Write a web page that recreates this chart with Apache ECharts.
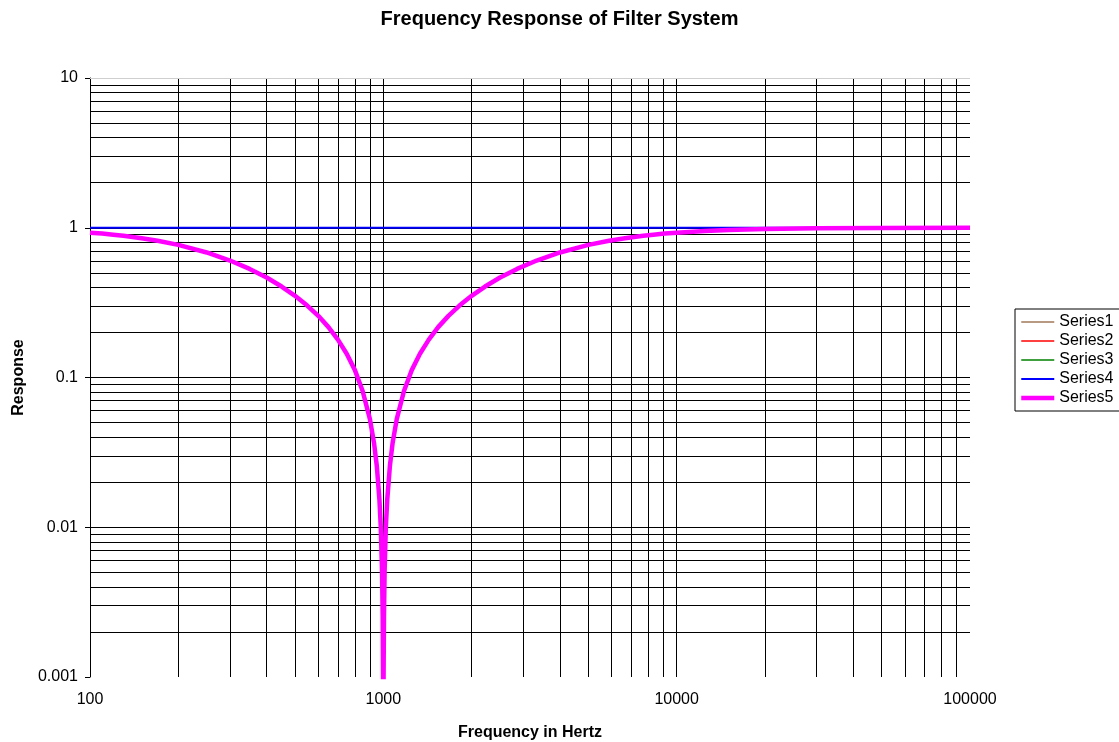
<!DOCTYPE html>
<html>
<head>
<meta charset="utf-8">
<script src="https://cdn.jsdelivr.net/npm/echarts@6/dist/echarts.min.js"></script>
<style>html,body{margin:0;padding:0;background:#fff;}#c{width:1119px;height:742px;}</style>
</head>
<body>
<div id="c"></div>
<script>
// ---- data ----
const seriesNames = ['Series1', 'Series2', 'Series3', 'Series4', 'Series5'];
const seriesColors = ['#A0785A', '#FF0000', '#008000', '#0000FF', '#FF00FF'];
const xTickLabels = ['100', '1000', '10000', '100000'];
const yTickLabels = ['0.001', '0.01', '0.1', '1', '10'];
const series1 = [];
const series2 = [];
const series3 = [];
const series4Freq = [100, 100000];
const series4Resp = [1, 1];
const series5Freq = [100,110,120,130,150,170,200,250,300,350,400,450,500,550,600,650,700,750,800,850,900,930,950,970,980,990,995,998,1000,
  1002,1005,1010,1020,1031,1053,1075,1111,1176,1250,1333,1429,1538,1667,1818,2000,2222,2500,2857,3333,4000,5000,5882,6667,7692,8333,9091,10000,12500,15000,20000,30000,50000,100000];
const series5Resp = [0.927,0.914,0.899,0.884,0.852,0.819,0.768,0.684,0.604,0.531,0.465,0.405,0.351,0.302,0.258,0.217,0.179,0.144,0.112,0.0813,0.0527,0.0363,0.0257,0.0152,0.0101,0.00503,0.0025,0.001,0.00001,
  0.001,0.0025,0.00503,0.0101,0.0152,0.0257,0.0363,0.0527,0.0813,0.112,0.144,0.179,0.217,0.258,0.302,0.351,0.405,0.465,0.531,0.604,0.684,0.768,0.819,0.852,0.884,0.899,0.914,0.927,0.952,0.966,0.981,0.991,0.997,0.999];
const minorMultipliers = [2, 3, 4, 5, 6, 7, 8, 9];
const xDecades = [100, 1000, 10000];
const yDecades = [0.001, 0.01, 0.1, 1];
const xMin = 100, xMax = 100000, yMin = 0.001, yMax = 10;

// ---- build ----
const zip = (a, b) => a.map((v, i) => [v, b[i]]);
const xMinor = [];
xDecades.forEach(d => minorMultipliers.forEach(m => xMinor.push(d * m)));
const yMinor = [];
yDecades.forEach(d => minorMultipliers.forEach(m => yMinor.push(+(d * m).toPrecision(3))));

const FONT = 'Liberation Sans, Arial, sans-serif';
const chart = echarts.init(document.getElementById('c'), null, { renderer: 'canvas' });

const lineWidths = [1.6, 1.6, 1.6, 2, 4.5];
const lineSeries = seriesNames.map((n, i) => ({
  name: n,
  type: 'line',
  data: [],
  showSymbol: false,
  symbol: 'none',
  color: seriesColors[i],
  lineStyle: { width: lineWidths[i], color: seriesColors[i] },
  z: 3 + i,
  animation: false
}));
lineSeries[3].data = zip(series4Freq, series4Resp);
lineSeries[4].data = zip(series5Freq, series5Resp);

function helper(name, lines) {
  return {
    name: name,
    type: 'line',
    data: [[xMin, 1]],
    showSymbol: false,
    symbol: 'none',
    lineStyle: { width: 0 },
    z: 1,
    silent: true,
    animation: false,
    markLine: {
      silent: true,
      symbol: ['none', 'none'],
      label: { show: false },
      animation: false,
      lineStyle: { color: '#000', width: 1, type: 'solid' },
      emphasis: { disabled: true },
      data: lines
    }
  };
}
const xGrid = helper('xgrid', xMinor.map(v => ({ xAxis: v })));
const yGrid = helper('ygrid', yMinor.map(v => [{ coord: [xMin, v] }, { coord: [xMax, v] }])
  .concat([[{ coord: [xMin, yMax], lineStyle: { color: '#cfcfcf' } }, { coord: [xMax, yMax] }]]));

chart.setOption({
  animation: false,
  backgroundColor: '#fff',
  title: {
    text: 'Frequency Response of Filter System',
    left: 'center',
    top: 4,
    textStyle: { fontFamily: FONT, fontSize: 20, fontWeight: 'bold', color: '#000' }
  },
  legend: {
    orient: 'vertical',
    left: 1015,
    top: 309,
    data: seriesNames.map((n, i) => ({ name: n, lineStyle: { width: lineWidths[i], opacity: 1 } })),
    itemWidth: 33,
    itemHeight: 12,
    itemGap: 3,
    padding: [5, 30, 5, 4],
    borderColor: '#000',
    borderWidth: 1,
    itemStyle: { color: 'rgba(0,0,0,0)', borderWidth: 0 },
    textStyle: { fontFamily: FONT, fontSize: 16, color: '#000', lineHeight: 16 },
    selectedMode: false
  },
  grid: { left: 90, right: 149, top: 78, bottom: 65, containLabel: false, outerBoundsMode: 'none' },
  xAxis: {
    type: 'log',
    logBase: 10,
    min: xMin,
    max: xMax,
    name: 'Frequency in Hertz',
    nameLocation: 'middle',
    nameGap: 48,
    nameTextStyle: { fontFamily: FONT, fontSize: 16, fontWeight: 'bold', color: '#000' },
    axisLine: { show: false },
    axisTick: { show: false },
    axisLabel: {
      fontFamily: FONT, fontSize: 16, color: '#000', margin: 15,
      formatter: v => xTickLabels[Math.round(Math.log10(v)) - 2]
    },
    splitLine: { show: true, showMinLine: false, showMaxLine: false, lineStyle: { color: '#000', width: 1 } }
  },
  yAxis: {
    type: 'log',
    logBase: 10,
    min: yMin,
    max: yMax,
    name: 'Response',
    nameLocation: 'middle',
    nameGap: 62,
    nameRotate: 90,
    nameTextStyle: { fontFamily: FONT, fontSize: 16, fontWeight: 'bold', color: '#000' },
    axisLine: { show: true, lineStyle: { color: '#000', width: 1 } },
    axisTick: { show: true, length: 5, inside: false, lineStyle: { color: '#000' } },
    axisLabel: {
      fontFamily: FONT, fontSize: 16, color: '#000', margin: 12,
      formatter: v => yTickLabels[Math.round(Math.log10(v)) + 3]
    },
    splitLine: { show: true, showMinLine: false, showMaxLine: false, lineStyle: { color: '#000', width: 1 } }
  },
  series: [xGrid, yGrid].concat(lineSeries)
});
</script>
</body>
</html>
